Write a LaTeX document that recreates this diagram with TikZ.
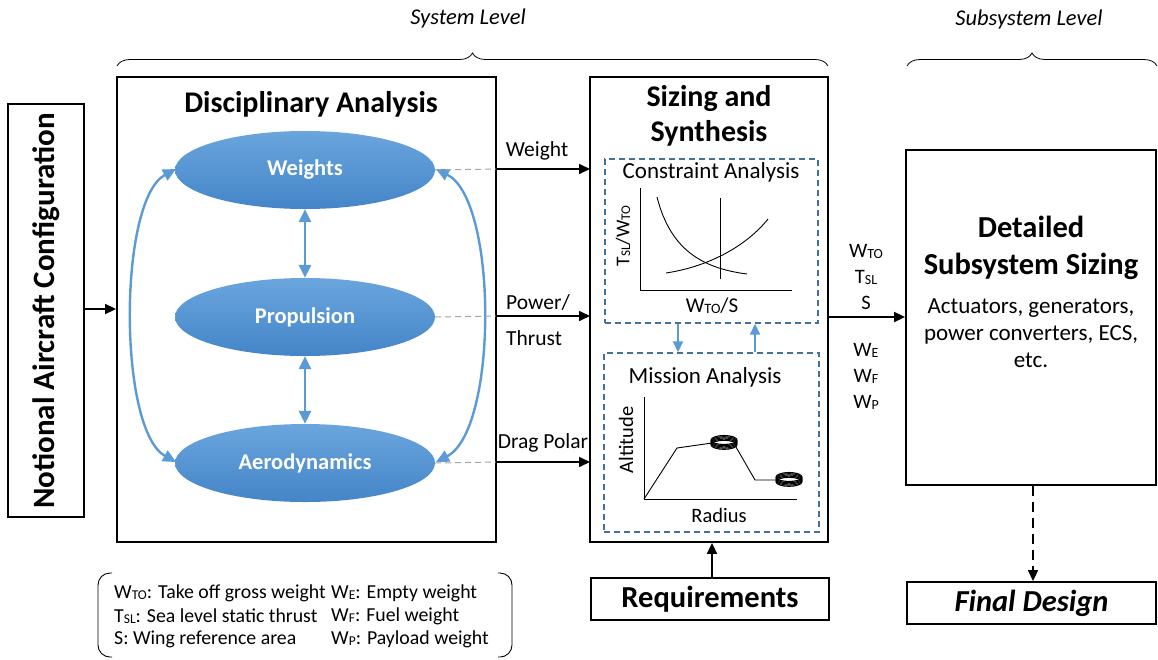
\documentclass[tikz,border=0pt]{standalone}
\usepackage{fontspec}
\setmainfont{Carlito}
\usetikzlibrary{shapes.geometric,arrows.meta,decorations.pathreplacing}
\definecolor{lblue}{HTML}{5B9BD5}
\definecolor{dblue}{HTML}{41719C}
\definecolor{etop}{HTML}{6AA5DD}
\definecolor{ebot}{HTML}{4485C8}
\definecolor{dgray}{HTML}{A6A6A6}
\newcommand\lo[1]{\raisebox{-0.1ex}{\scalebox{0.68}{#1}}}
\newcommand\fsz[2]{\fontsize{#1}{#2}\selectfont}
\tikzset{
  box/.style={draw=black, line width=1.8pt, fill=white, inner sep=0pt},
  dbox/.style={draw=dblue, line width=1.4pt, dash pattern=on 6pt off 4pt, inner sep=0pt},
  ell/.style={ellipse, minimum width=260pt, minimum height=78pt, top color=etop, bottom color=ebot, draw=none, text=white, font=\fsz{22.5}{26}\bfseries},
  barrow/.style={line width=1.6pt, -{Triangle[width=10pt,length=11pt]}},
  bluearr/.style={draw=lblue, line width=2.4pt, {Triangle[width=12pt,length=13pt]}-{Triangle[width=12pt,length=13pt]}},
  smallblue/.style={draw=lblue, line width=1.6pt, -{Triangle[width=10pt,length=11pt]}},
  gdash/.style={draw=dgray, line width=1pt, dash pattern=on 6pt off 4pt},
  title/.style={font=\fsz{30}{35}\bfseries, align=center},
  lbl/.style={font=\fsz{21.5}{25}},
  leg/.style={font=\fsz{19.8}{23}, anchor=west, inner sep=0pt},
  thin/.style={line width=0.9pt},
  brc/.style={decorate, decoration={brace, amplitude=13pt}, line width=0.8pt}
}
\begin{document}
\begin{tikzpicture}[x=1pt,y=-1pt]
\useasboundingbox (0,0) rectangle (1158,659);

% braces
\coordinate (b1a) at (117,66); \coordinate (b1b) at (828,66);
\coordinate (b2a) at (907,66); \coordinate (b2b) at (1157,66);
\draw[brc] (b1a) -- (b1b);
\draw[brc] (b2a) -- (b2b);
\node[font=\fsz{22.5}{26}\itshape] (sl) at (468,18) {System Level};
\node[font=\fsz{22.5}{26}\itshape] (ssl) at (1029,19) {Subsystem Level};

% notional
\node[box, minimum width=76pt, minimum height=413pt] (nc) at (46,310.5) {};
\node[rotate=90, font=\fsz{31}{35}\bfseries] (nct) at (46,311) {Notional Aircraft Configuration};

% disciplinary box
\node[box, minimum width=379pt, minimum height=465pt] (da) at (306.5,309.5) {};
\node[title] (dat) at (311,104) {Disciplinary Analysis};

% ellipses
\node[ell] (w) at (305,170) {Weights};
\node[ell] (p) at (305,317) {Propulsion};
\node[ell] (a) at (305,463) {Aerodynamics};

\draw[bluearr] (w.south) -- (p.north);
\draw[bluearr] (p.south) -- (a.north);
\coordinate (wl) at (176,169); \coordinate (al) at (176,462);
\coordinate (wr) at (436,169); \coordinate (ar) at (436,462);
\draw[bluearr] (wl) .. controls (118,200) and (118,430) .. (al);
\draw[bluearr] (wr) .. controls (498,200) and (498,430) .. (ar);

% sizing box
\node[box, minimum width=238pt, minimum height=465pt] (sz) at (709,309.5) {};
\node[title] (szt) at (709,116) {Sizing and\\Synthesis};

% dashed gray + arrows
\coordinate (dw) at (496,169); \coordinate (dp) at (496,316); \coordinate (dd) at (496,462);
\coordinate (sw) at (590,169); \coordinate (sp) at (590,316); \coordinate (sd) at (590,462);
\draw[gdash] (w.east) -- (dw);
\draw[gdash] (p.east) -- (dp);
\draw[gdash] (a.east) -- (dd);
\draw[barrow] (dw) -- (sw);
\draw[barrow] (dp) -- (sp);
\draw[barrow] (dd) -- (sd);
\node[lbl] (lw) at (537,151) {Weight};
\node[lbl] (lp) at (538,302) {Power/};
\node[lbl] (lt) at (534,338) {Thrust};
\node[lbl] (ld) at (543,443) {Drag Polar};

% notional arrow
\draw[barrow] (nc.east |- 0,309) -- (da.west |- 0,309);

% constraint
\node[dbox, minimum width=213pt, minimum height=164pt] (ca) at (711.5,241) {};
\node[font=\fsz{23}{27}] (cat) at (711,172) {Constraint Analysis};
\coordinate (co) at (640,290);
\draw[thin] (640,188) -- (co) -- (792,290);
\draw[thin] (657,197) .. controls (670,248) and (700,268) .. (747,274);
\draw[thin] (666,273) .. controls (712,266) and (748,244) .. (768,219);
\draw[thin] (720,198) -- (720,279);
\node[rotate=90, font=\fsz{19.5}{23}] (cyl) at (623,236) {T\lo{SL}/W\lo{TO}};
\node[font=\fsz{21}{25}] (cxl) at (712,306) {W\lo{TO}/S};

% mission
\node[dbox, minimum width=215pt, minimum height=179pt] (ma) at (711.5,442.5) {};
\node[font=\fsz{23}{27}] (mat) at (705,377) {Mission Analysis};
\coordinate (mo) at (644,499);
\draw[thin] (644,397) -- (mo) -- (797,499);
\draw[thin] (mo) -- (677,448) -- (712,443);
\foreach \i in {0,...,4} \draw[line width=1.1pt] (724,440+\i*1.2) ellipse (13pt and 4.5pt);
\draw[thin] (736,447) -- (755,480) -- (775,480);
\foreach \i in {0,...,4} \draw[line width=1.1pt] (789,477+\i*1.2) ellipse (13pt and 4.5pt);
\node[rotate=90, font=\fsz{20.5}{24}] (myl) at (626,440) {Altitude};
\node[font=\fsz{20.5}{24}] (mxl) at (719,515) {Radius};

% arrows between constraint/mission
\draw[smallblue] (ca.south -| 678,0) -- (ma.north -| 678,0);
\draw[smallblue] (ma.north -| 755,0) -- (ca.south -| 755,0);

% requirements
\node[box, minimum width=238pt, minimum height=42pt, font=\fsz{30.5}{34}\bfseries] (rq) at (710,599) {Requirements};
\draw[barrow] (rq.north -| 712,0) -- (sz.south -| 712,0);

% detailed
\node[box, minimum width=250pt, minimum height=335pt] (ds) at (1031,317.5) {};
\node[title, font=\fsz{30.5}{37}\bfseries] (dst) at (1031,248) {Detailed\\Subsystem Sizing};
\node[font=\fsz{23}{27}, align=center] (dsb) at (1031,333) {Actuators, generators,\\power converters, ECS,\\etc.};

\draw[barrow] (sz.east |- 0,317) -- (ds.west |- 0,317);
\node[font=\fsz{20.5}{26}, align=center] (ol1) at (866,277) {W\lo{TO}\\T\lo{SL}\\S};
\node[font=\fsz{20.5}{26}, align=center] (ol2) at (866,376) {W\lo{E}\\W\lo{F}\\W\lo{P}};

% final
\node[box, minimum width=249pt, minimum height=42pt, font=\fsz{30.5}{34}\bfseries\itshape] (fd) at (1031.5,603) {Final Design};
\draw[line width=1.6pt, dash pattern=on 10pt off 6pt, -{Triangle[width=10pt,length=11pt]}] (ds.south -| 1033,0) -- (fd.north -| 1033,0);

% legend
\draw[thin, rounded corners=12pt] (112,573) -- (98,573) -- (98,657) -- (112,657);
\draw[thin, rounded corners=12pt] (498,573) -- (512,573) -- (512,657) -- (498,657);
\node[leg] (l1) at (114,593) {W\lo{TO}: Take off gross weight};
\node[leg] (l2) at (114,616) {T\lo{SL}: Sea level static thrust};
\node[leg] (l3) at (114,639) {S: Wing reference area};
\node[leg] (l4) at (331,593) {W\lo{E}: Empty weight};
\node[leg] (l5) at (331,616) {W\lo{F}: Fuel weight};
\node[leg] (l6) at (331,639) {W\lo{P}: Payload weight};
\end{tikzpicture}
\end{document}
